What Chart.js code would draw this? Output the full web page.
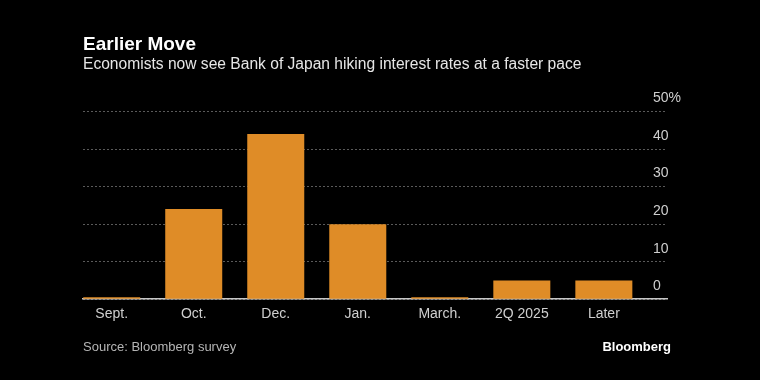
<!DOCTYPE html>
<html>
<head>
<meta charset="utf-8">
<script src="https://cdn.jsdelivr.net/npm/chart.js@4/dist/chart.umd.min.js"></script>
<style>
	html, body { margin: 0; padding: 0; background: #000; }
	#wrap { width: 760px; height: 380px; }
</style>
</head>
<body>
<div id="wrap"><canvas id="chart"></canvas></div>
<script>
// survey answers: when will the BOJ hike next (% of economists)
var categories = ["Sept.", "Oct.", "Dec.", "Jan.", "March.", "2Q 2025", "Later"];
var shares = [0, 24, 44, 20, 0, 5, 5];
var y_max = 50;
var y_step = 10;

var title_text = "Earlier Move";
var subtitle_text = "Economists now see Bank of Japan hiking interest rates at a faster pace";
var source_text = "Source: Bloomberg survey";

var FONT = "'Liberation Sans', Arial, sans-serif";

// source line + logo under the chart
var footer = {
	id: "footer",
	afterDraw: function (chart) {
		var ctx = chart.ctx;
		var area = chart.chartArea;
		var y = chart.height - 33;
		ctx.save();
		ctx.textBaseline = "middle";
		ctx.font = "13px " + FONT;
		ctx.fillStyle = "#b5b5b5";
		ctx.textAlign = "left";
		ctx.fillText(source_text, area.left, y);
		ctx.font = "bold 13px " + FONT;
		ctx.fillStyle = "#fff";
		ctx.textAlign = "right";
		ctx.fillText("Bloomberg", area.right + 4, y);
		ctx.restore();
	}
};

var points = categories.map(function (c, i) {
	return { x: i, y: shares[i] };
});

var chart = new Chart(document.getElementById("chart"), {
	type: "bar",
	data: {
		datasets: [{
			data: points,
			backgroundColor: "#df8c27",
			borderWidth: 0,
			minBarLength: 2,
			categoryPercentage: 1,
			barPercentage: 0.695
		}]
	},
	plugins: [footer],
	options: {
		responsive: true,
		maintainAspectRatio: false,
		animation: false,
		layout: { padding: { left: 83, right: 65, top: 33, bottom: 50 } },
		plugins: {
			legend: { display: false },
			tooltip: { enabled: false },
			title: {
				display: true,
				text: title_text,
				align: "start",
				color: "#fff",
				font: { family: FONT, size: 19, weight: "bold" },
				padding: { top: 0, bottom: 0 }
			},
			subtitle: {
				display: true,
				text: subtitle_text,
				align: "start",
				color: "#e6e6e6",
				font: { family: FONT, size: 15.6 },
				padding: { top: 0, bottom: 37 }
			}
		},
		scales: {
			x: {
				type: "linear",
				offset: false,
				min: -0.35,
				max: 6.77,
				grid: { display: false, drawTicks: false, offset: false },
				border: { display: true, color: "#c8c8c8", width: 1.5 },
				ticks: {
					stepSize: 1,
					includeBounds: false,
					autoSkip: false,
					maxRotation: 0,
					padding: 7,
					color: "#cfcfcf",
					font: { family: FONT, size: 14 },
					callback: function (value) {
						return categories[value];
					}
				}
			},
			y: {
				position: "right",
				min: 0,
				max: y_max,
				grid: { color: "#5a5a5a", lineWidth: 1, drawTicks: false },
				border: { display: false, dash: [2, 2] },
				ticks: {
					stepSize: y_step,
					mirror: true,
					crossAlign: "far",
					padding: 14,
					labelOffset: -13,
					color: "#cfcfcf",
					font: { family: FONT, size: 14 },
					callback: function (value) {
						return value === y_max ? value + "%" : String(value);
					}
				}
			}
		}
	}
});
</script>
</body>
</html>
